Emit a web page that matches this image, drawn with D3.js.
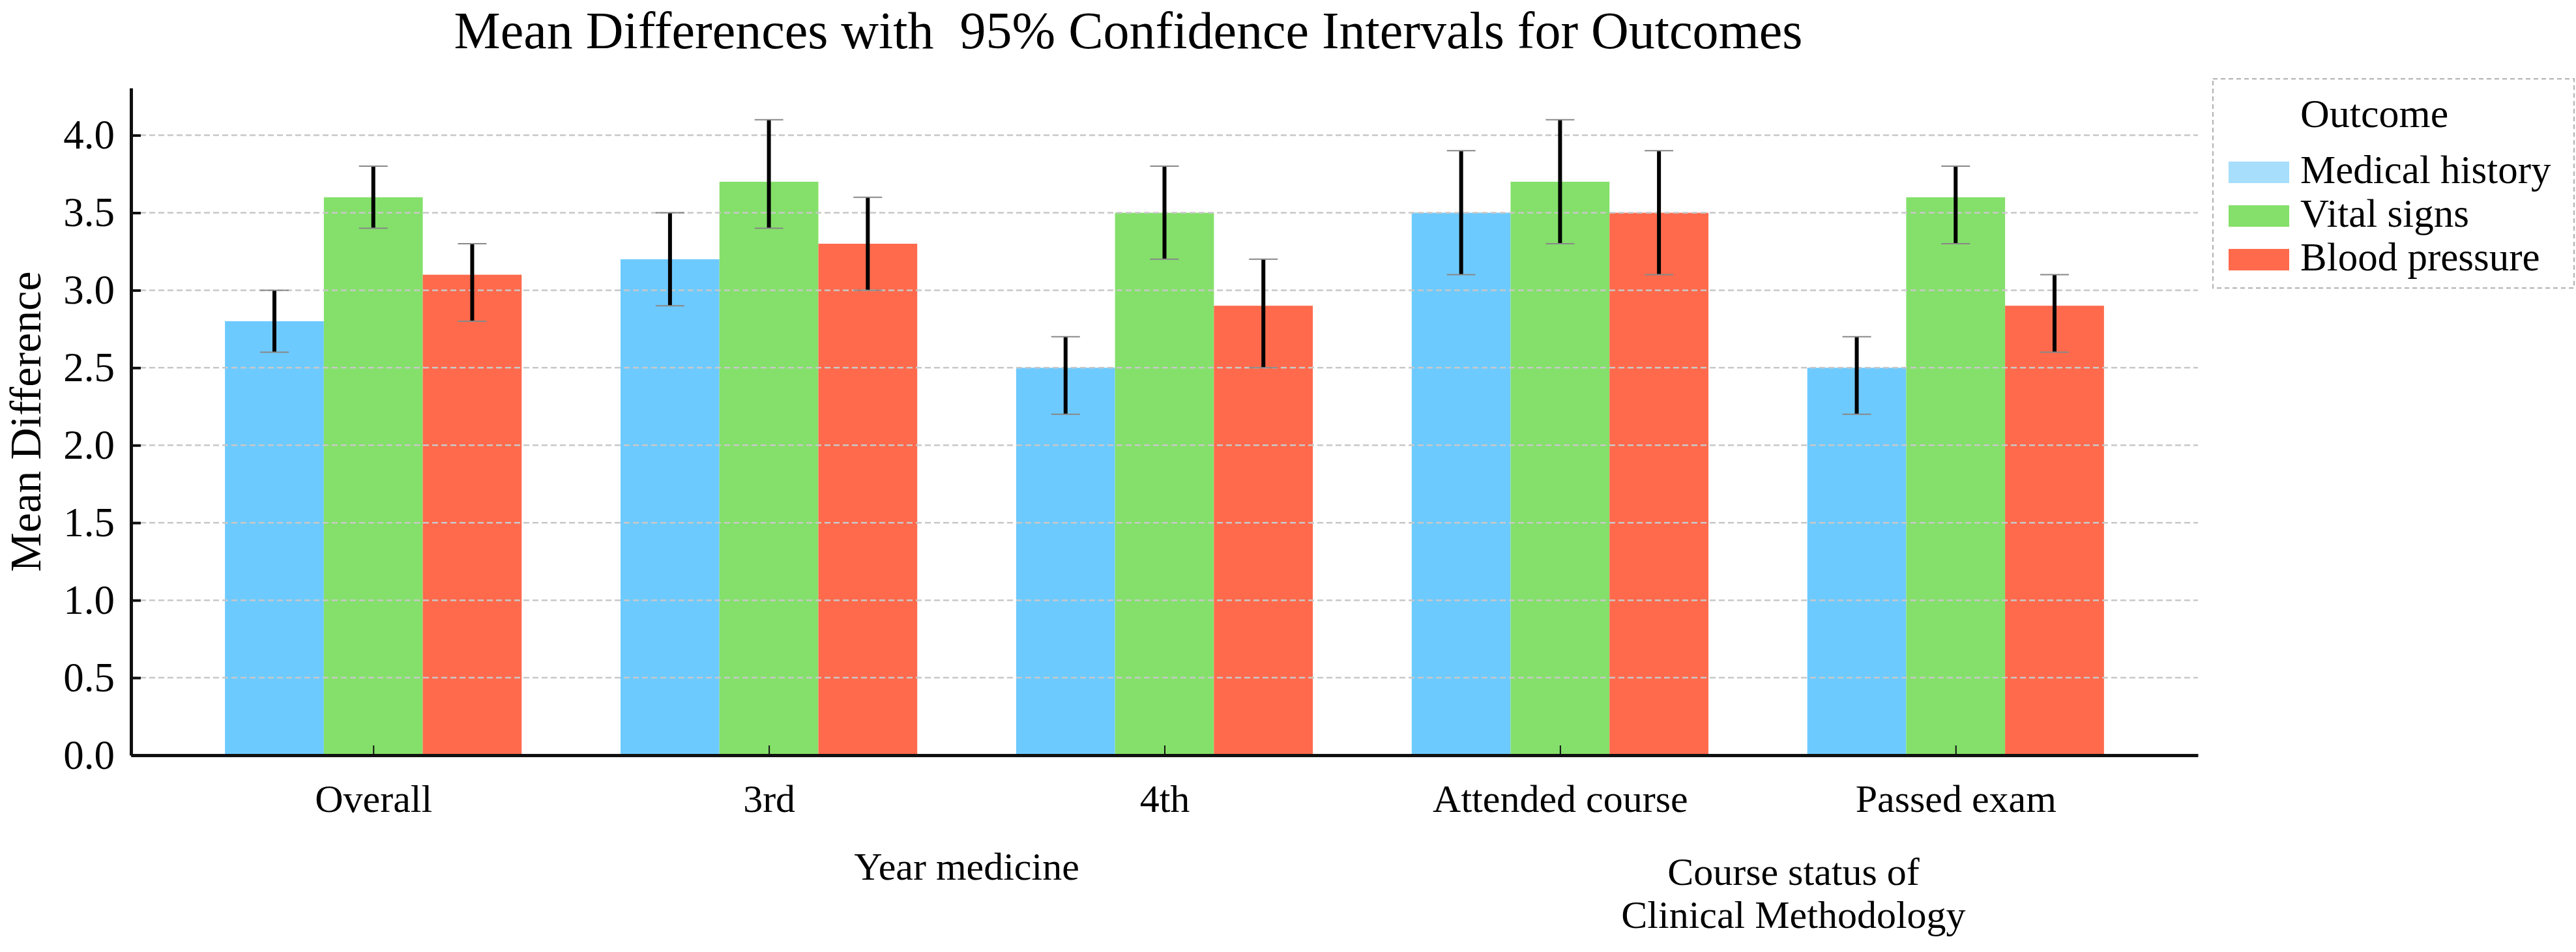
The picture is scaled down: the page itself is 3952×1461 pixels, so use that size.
<!DOCTYPE html>
<html>
<head>
<meta charset="utf-8">
<script src="https://cdn.jsdelivr.net/npm/d3@7"></script>
<style>
  body { margin: 0; background: #fff; }
  text { font-family: "Liberation Serif", "Times New Roman", serif; fill: #000; }
</style>
</head>
<body>
<script>
var groups = ["Overall", "3rd", "4th", "Attended course", "Passed exam"];
var outcomes = ["Medical history", "Vital signs", "Blood pressure"];

// mean differences, one array per outcome (same order as groups)
var medicalMean = [2.8, 3.2, 2.5, 3.5, 2.5];
var vitalMean   = [3.6, 3.7, 3.5, 3.7, 3.6];
var bloodMean   = [3.1, 3.3, 2.9, 3.5, 2.9];

// 95% CI bounds
var medicalLow  = [2.6, 2.9, 2.2, 3.1, 2.2];
var medicalHigh = [3.0, 3.5, 2.7, 3.9, 2.7];
var vitalLow    = [3.4, 3.4, 3.2, 3.3, 3.3];
var vitalHigh   = [3.8, 4.1, 3.8, 4.1, 3.8];
var bloodLow    = [2.8, 3.0, 2.5, 3.1, 2.6];
var bloodHigh   = [3.3, 3.6, 3.2, 3.9, 3.1];

var yTicks = [0, 0.5, 1.0, 1.5, 2.0, 2.5, 3.0, 3.5, 4.0];

var barColors = ["#6dcaff", "#84e06a", "#ff6a4c"];
var swatchColors = ["#a6defc", "#84e06a", "#ff6a4c"];

var width = 3952,
    height = 1461;

var svg = d3.select("body").append("svg")
    .attr("width", width)
    .attr("height", height);

var series = [
  { mean: medicalMean, low: medicalLow, high: medicalHigh },
  { mean: vitalMean, low: vitalLow, high: vitalHigh },
  { mean: bloodMean, low: bloodLow, high: bloodHigh }
];

var barW = 0.25;

var x = d3.scaleLinear()
    .domain([-0.6125, 4.6125])
    .range([201, 3372]);

var y = d3.scaleLinear()
    .domain([0, 4.305])
    .range([1159, 135]);

// bars
series.forEach(function(s, j) {
  svg.append("g").selectAll("rect")
      .data(s.mean)
    .enter().append("rect")
      .attr("x", function(d, i) { return x(i + (j - 1) * barW - barW / 2); })
      .attr("width", x(barW) - x(0))
      .attr("y", function(d) { return y(d); })
      .attr("height", function(d) { return y(0) - y(d); })
      .attr("fill", barColors[j]);
});

// grid (drawn over the bars like the original)
svg.append("g").selectAll("line")
    .data(yTicks.slice(1))
  .enter().append("line")
    .attr("x1", x.range()[0])
    .attr("x2", x.range()[1])
    .attr("y1", function(d) { return y(d); })
    .attr("y2", function(d) { return y(d); })
    .attr("stroke", "#c8c8c8")
    .attr("stroke-width", 2.5)
    .attr("stroke-dasharray", "9,5");

// error bars
series.forEach(function(s, j) {
  var g = svg.append("g");
  var cx = function(i) { return x(i + (j - 1) * barW); };
  g.selectAll("line.err")
      .data(s.mean)
    .enter().append("line")
      .attr("class", "err")
      .attr("x1", function(d, i) { return cx(i); })
      .attr("x2", function(d, i) { return cx(i); })
      .attr("y1", function(d, i) { return y(s.low[i]); })
      .attr("y2", function(d, i) { return y(s.high[i]); })
      .attr("stroke", "#000")
      .attr("stroke-width", 6);
  [s.low, s.high].forEach(function(bound) {
    g.selectAll(null)
        .data(bound)
      .enter().append("line")
        .attr("x1", function(d, i) { return cx(i) - 22; })
        .attr("x2", function(d, i) { return cx(i) + 22; })
        .attr("y1", function(d) { return y(d); })
        .attr("y2", function(d) { return y(d); })
        .attr("stroke", "#888")
        .attr("stroke-width", 2);
  });
});

// axes
var yAxis = svg.append("g")
    .attr("transform", "translate(" + x.range()[0] + ",0)")
    .call(d3.axisLeft(y)
      .tickValues(yTicks)
      .tickFormat(d3.format(".1f"))
      .tickSizeInner(-15)
      .tickSizeOuter(0)
      .tickPadding(25));

var xAxis = svg.append("g")
    .attr("transform", "translate(0," + y(0) + ")")
    .call(d3.axisBottom(x)
      .tickValues(d3.range(groups.length))
      .tickFormat(function(i) { return groups[i]; })
      .tickSizeInner(-15)
      .tickSizeOuter(0)
      .tickPadding(44));

yAxis.select(".domain").attr("stroke", "#111").attr("stroke-width", 5);
xAxis.select(".domain").attr("stroke", "#111").attr("stroke-width", 5);
yAxis.selectAll(".tick line").attr("stroke", "#111").attr("stroke-width", 4);
xAxis.selectAll(".tick line").attr("stroke", "#111").attr("stroke-width", 2);
svg.selectAll(".tick text")
    .style("font-family", "'Liberation Serif', serif");
yAxis.selectAll(".tick text").attr("font-size", 63);
xAxis.selectAll(".tick text").attr("font-size", 60);

// title and axis labels
svg.append("text")
    .attr("x", 1731)
    .attr("y", 74)
    .attr("text-anchor", "middle")
    .attr("font-size", 80)
    .text("Mean Differences with  95% Confidence Intervals for Outcomes")
    .style("white-space", "pre");

svg.append("text")
    .attr("transform", "translate(62," + ((y.range()[0] + y.range()[1]) / 2) + ") rotate(-90)")
    .attr("text-anchor", "middle")
    .attr("font-size", 68)
    .text("Mean Difference");

svg.append("text")
    .attr("x", (x(1) + x(2)) / 2)
    .attr("y", 1350)
    .attr("text-anchor", "middle")
    .attr("font-size", 60)
    .text("Year medicine");

var course = svg.append("text")
    .attr("text-anchor", "middle")
    .attr("font-size", 60);
course.append("tspan").attr("x", x(3.59)).attr("y", 1358).text("Course status of");
course.append("tspan").attr("x", x(3.59)).attr("y", 1424).text("Clinical Methodology");

// legend
var legend = svg.append("g");
legend.append("rect")
    .attr("x", 3395).attr("y", 121)
    .attr("width", 554).attr("height", 321)
    .attr("fill", "#fff")
    .attr("stroke", "#b0b0b0")
    .attr("stroke-width", 2)
    .attr("stroke-dasharray", "7,5");
legend.append("text")
    .attr("x", 3529).attr("y", 195)
    .attr("font-size", 62)
    .text("Outcome");
var item = legend.selectAll("g.item")
    .data(outcomes)
  .enter().append("g")
    .attr("class", "item")
    .attr("transform", function(d, i) { return "translate(0," + (i * 67) + ")"; });
item.append("rect")
    .attr("x", 3419).attr("y", 248)
    .attr("width", 93).attr("height", 33)
    .attr("fill", function(d, i) { return swatchColors[i]; });
item.append("text")
    .attr("x", 3529).attr("y", 281)
    .attr("font-size", 61)
    .text(function(d) { return d; });
</script>
</body>
</html>
